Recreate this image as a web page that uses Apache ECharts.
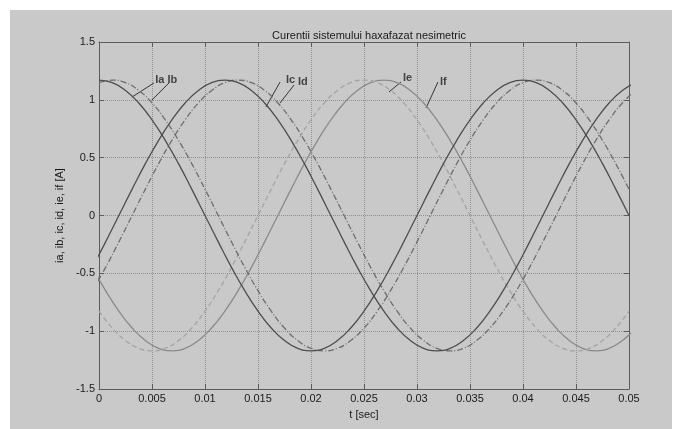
<!DOCTYPE html>
<html>
<head>
<meta charset="utf-8">
<script src="https://cdn.jsdelivr.net/npm/echarts@6/dist/echarts.min.js"></script>
<style>
  html, body { margin: 0; padding: 0; background: #ffffff; }
  .figure-bg { position: absolute; left: 10px; top: 10px; width: 662px; height: 419px; background: #c9c9c9; }
  #chart { position: absolute; left: 0; top: 0; width: 681px; height: 429px; }
</style>
</head>
<body>
<div class="figure-bg"></div>
<div id="chart"></div>
<script>
// time samples [s] for Ia, Ib, Ie
const tA = [0, 0.00125, 0.0025, 0.00375, 0.005, 0.00625, 0.0075, 0.00875, 0.01, 0.01125,
  0.0125, 0.01375, 0.015, 0.01625, 0.0175, 0.01875, 0.02, 0.02125, 0.0225, 0.02375,
  0.025, 0.02625, 0.0275, 0.02875, 0.03, 0.03125, 0.0325, 0.03375, 0.035, 0.03625,
  0.0375, 0.03875, 0.04, 0.04125, 0.0425, 0.04375, 0.045, 0.04625, 0.0475, 0.04875, 0.05]
// time samples [s] for Ic, Id, If (half step offset, so their peaks fall on a sample)
const tB = [-0.000625, 0.000625, 0.001875, 0.003125, 0.004375, 0.005625, 0.006875, 0.008125, 0.009375, 0.010625,
  0.011875, 0.013125, 0.014375, 0.015625, 0.016875, 0.018125, 0.019375, 0.020625, 0.021875, 0.023125,
  0.024375, 0.025625, 0.026875, 0.028125, 0.029375, 0.030625, 0.031875, 0.033125, 0.034375, 0.035625,
  0.036875, 0.038125, 0.039375, 0.040625, 0.041875, 0.043125, 0.044375, 0.045625, 0.046875, 0.048125,
  0.049375, 0.050625]

// currents [A]
const ia = [1.17, 1.148, 1.081, 0.973, 0.827, 0.65, 0.448, 0.228, 0, -0.228,
  -0.448, -0.65, -0.827, -0.973, -1.081, -1.148, -1.17, -1.148, -1.081, -0.973,
  -0.827, -0.65, -0.448, -0.228, 0, 0.228, 0.448, 0.65, 0.827, 0.973,
  1.081, 1.148, 1.17, 1.148, 1.081, 0.973, 0.827, 0.65, 0.448, 0.228, 0]
const ib = [1.148, 1.17, 1.148, 1.081, 0.973, 0.827, 0.65, 0.448, 0.228, 0,
  -0.228, -0.448, -0.65, -0.827, -0.973, -1.081, -1.148, -1.17, -1.148, -1.081,
  -0.973, -0.827, -0.65, -0.448, -0.228, 0, 0.228, 0.448, 0.65, 0.827,
  0.973, 1.081, 1.148, 1.17, 1.148, 1.081, 0.973, 0.827, 0.65, 0.448, 0.228]
const ie = [-0.827, -0.973, -1.081, -1.148, -1.17, -1.148, -1.081, -0.973, -0.827, -0.65,
  -0.448, -0.228, 0, 0.228, 0.448, 0.65, 0.827, 0.973, 1.081, 1.148,
  1.17, 1.148, 1.081, 0.973, 0.827, 0.65, 0.448, 0.228, 0, -0.228,
  -0.448, -0.65, -0.827, -0.973, -1.081, -1.148, -1.17, -1.148, -1.081, -0.973, -0.827]
const ic = [-0.448, -0.228, 0, 0.228, 0.448, 0.65, 0.827, 0.973, 1.081, 1.148,
  1.17, 1.148, 1.081, 0.973, 0.827, 0.65, 0.448, 0.228, 0, -0.228,
  -0.448, -0.65, -0.827, -0.973, -1.081, -1.148, -1.17, -1.148, -1.081, -0.973,
  -0.827, -0.65, -0.448, -0.228, 0, 0.228, 0.448, 0.65, 0.827, 0.973,
  1.081, 1.148]
const id = [-0.65, -0.448, -0.228, 0, 0.228, 0.448, 0.65, 0.827, 0.973, 1.081,
  1.148, 1.17, 1.148, 1.081, 0.973, 0.827, 0.65, 0.448, 0.228, 0,
  -0.228, -0.448, -0.65, -0.827, -0.973, -1.081, -1.148, -1.17, -1.148, -1.081,
  -0.973, -0.827, -0.65, -0.448, -0.228, 0, 0.228, 0.448, 0.65, 0.827,
  0.973, 1.081]
const iF = [-0.448, -0.65, -0.827, -0.973, -1.081, -1.148, -1.17, -1.148, -1.081, -0.973,
  -0.827, -0.65, -0.448, -0.228, 0, 0.228, 0.448, 0.65, 0.827, 0.973,
  1.081, 1.148, 1.17, 1.148, 1.081, 0.973, 0.827, 0.65, 0.448, 0.228,
  0, -0.228, -0.448, -0.65, -0.827, -0.973, -1.081, -1.148, -1.17, -1.148,
  -1.081, -0.973]

// curve labels and their pointer lines (data coordinates)
const labelNames = ['Ia Ib', 'Ic', 'Id', 'Ie', 'If']
const labelPos = [[0.0053, 1.171], [0.01764, 1.171], [0.01877, 1.154], [0.02868, 1.189], [0.03217, 1.154]]
const pointerLines = [
  [[0.00311, 1.024], [0.00519, 1.146]],
  [[0.005, 0.999], [0.0066, 1.146]],
  [[0.01575, 0.938], [0.01708, 1.154]],
  [[0.01708, 0.973], [0.0184, 1.128]],
  [[0.02736, 1.068], [0.02849, 1.154]],
  [[0.03085, 0.929], [0.03198, 1.154]]
]

const xTicks = { min: 0, max: 0.05, interval: 0.005 }
const yTicks = { min: -1.5, max: 1.5, interval: 0.5 }

const font = 'Liberation Sans, Arial, sans-serif'
const axisColor = '#5c5c5c'
const pair = (ts, vals) => ts.map((t, i) => [t, vals[i]])

const curve = (name, ts, vals, color, type) => ({
  name,
  type: 'line',
  data: pair(ts, vals),
  smooth: true,
  showSymbol: false,
  silent: true,
  clip: true,
  lineStyle: { color, width: 1.3, type }
})

const chart = echarts.init(document.getElementById('chart'))

const option = {
  backgroundColor: 'transparent',
  animation: false,
  title: {
    text: 'Curentii sistemului haxafazat nesimetric',
    left: 364,
    top: 25,
    textAlign: 'center',
    textStyle: { fontFamily: font, fontSize: 11, fontWeight: 'normal', color: '#1a1a1a' }
  },
  grid: { left: 99, right: 52, top: 42, bottom: 40 },
  xAxis: [
    {
      type: 'value',
      ...xTicks,
      name: 't [sec]',
      nameLocation: 'middle',
      nameGap: 20,
      nameTextStyle: { fontFamily: font, fontSize: 11, color: '#1a1a1a' },
      axisLine: { onZero: false, lineStyle: { color: axisColor, width: 1 } },
      axisTick: { inside: true, length: 5, lineStyle: { color: axisColor } },
      axisLabel: { fontFamily: font, fontSize: 11, color: '#1a1a1a', margin: 4 },
      splitLine: { show: true, lineStyle: { color: '#909090', type: 'dotted', width: 1 } }
    },
    {
      type: 'value',
      ...xTicks,
      position: 'top',
      axisLine: { onZero: false, lineStyle: { color: axisColor, width: 1 } },
      axisTick: { inside: true, length: 5, lineStyle: { color: axisColor } },
      axisLabel: { show: false },
      splitLine: { show: false }
    }
  ],
  yAxis: [
    {
      type: 'value',
      ...yTicks,
      name: 'ia, ib, ic, id, ie, if [A]',
      nameLocation: 'middle',
      nameGap: 33,
      nameTextStyle: { fontFamily: font, fontSize: 11, color: '#1a1a1a' },
      axisLine: { show: true, onZero: false, lineStyle: { color: axisColor, width: 1 } },
      axisTick: { show: true, inside: true, length: 5, lineStyle: { color: axisColor } },
      axisLabel: { fontFamily: font, fontSize: 11, color: '#1a1a1a', margin: 4 },
      splitLine: { show: true, lineStyle: { color: '#909090', type: 'dotted', width: 1 } }
    },
    {
      type: 'value',
      ...yTicks,
      position: 'right',
      axisLine: { show: true, onZero: false, lineStyle: { color: axisColor, width: 1 } },
      axisTick: { show: true, inside: true, length: 5, lineStyle: { color: axisColor } },
      axisLabel: { show: false },
      splitLine: { show: false }
    }
  ],
  series: [
    curve('If', tB, iF, '#8a8a8a', 'solid'),
    curve('Ie', tA, ie, '#a4a4a4', [5, 3]),
    curve('Id', tB, id, '#6e6e6e', [6, 2, 1, 2]),
    curve('Ib', tA, ib, '#6e6e6e', [6, 2, 1, 2]),
    curve('Ic', tB, ic, '#4e4e4e', 'solid'),
    curve('Ia', tA, ia, '#4e4e4e', 'solid'),
    {
      type: 'lines',
      coordinateSystem: 'cartesian2d',
      silent: true,
      lineStyle: { color: '#333333', width: 1, opacity: 1 },
      data: pointerLines.map(c => ({ coords: c }))
    },
    {
      type: 'scatter',
      symbolSize: 0,
      silent: true,
      data: labelPos.map((p, i) => ({ value: p, name: labelNames[i] })),
      label: {
        show: true,
        position: 'right',
        distance: 0,
        formatter: '{b}',
        fontFamily: font,
        fontSize: 11,
        fontWeight: 'bold',
        color: '#222222'
      }
    }
  ]
}

chart.setOption(option)
</script>
</body>
</html>
